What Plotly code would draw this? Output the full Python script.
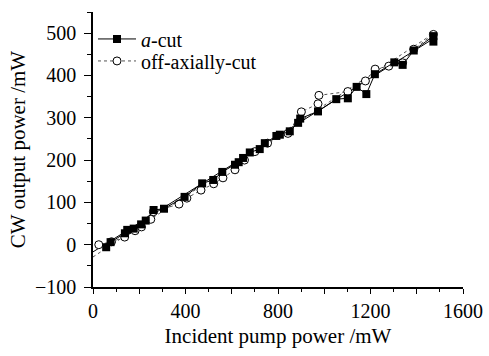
import plotly.graph_objects as go

# a-cut sample (filled squares)
a_cut_x = [57, 76, 138, 148, 176, 208, 228, 262, 307, 396, 472, 520, 559, 614, 630, 649, 678, 721, 743,
           793, 808, 851, 887, 896, 973, 1052, 1102, 1140, 1182, 1219, 1303, 1339, 1387, 1472, 1472]
a_cut_y = [-6, 6, 27, 35, 38, 48, 57, 82, 85, 113, 145, 153, 172, 189, 195, 205, 218, 226, 240,
           257, 260, 268, 288, 298, 315, 344, 346, 373, 356, 403, 431, 425, 459, 493, 480]

# off-axially-cut sample (open circles)
off_x = [25, 80, 137, 182, 210, 250, 261, 372, 406, 467, 522, 562, 614, 655, 700, 755, 843, 901,
         973, 977, 1102, 1178, 1220, 1279, 1339, 1387, 1472]
off_y = [0, 7, 18, 33, 42, 60, 78, 96, 110, 129, 144, 158, 177, 200, 220, 240, 263, 314,
         333, 353, 362, 387, 415, 422, 430, 462, 497]

# linear fit lines (end points)
fit_a_x = [0, 1475]
fit_a_y = [-17, 488]
fit_off_x = [0, 1475]
fit_off_y = [-29, 500]

x_ticks = [0, 200, 400, 600, 800, 1000, 1200, 1400, 1600]
x_ticktext = ["0", "", "400", "", "800", "", "1200", "", "1600"]
y_ticks = [-100, 0, 100, 200, 300, 400, 500]
y_ticktext = ["\u2212100", "0", "100", "200", "300", "400", "500"]

FONT = "Times New Roman, Liberation Serif, DejaVu Serif, serif"

fig = go.Figure()
fig.add_trace(go.Scatter(x=fit_off_x, y=fit_off_y, mode="lines",
                         line=dict(color="#555", width=1, dash="dot"), showlegend=False))
fig.add_trace(go.Scatter(x=fit_a_x, y=fit_a_y, mode="lines",
                         line=dict(color="black", width=1), showlegend=False))
fig.add_trace(go.Scatter(x=off_x, y=off_y, mode="lines+markers", name="off-axially-cut",
                         legend="legend2",
                         line=dict(color="#555", width=1, dash="dot"),
                         marker=dict(symbol="circle", size=8, color="white",
                                     line=dict(color="black", width=1))))
fig.add_trace(go.Scatter(x=a_cut_x, y=a_cut_y, mode="lines+markers", name="<i>a</i>-cut",
                         legend="legend",
                         line=dict(color="black", width=1),
                         marker=dict(symbol="square", size=8, color="black",
                                     line=dict(color="black", width=0))))

leg_common = dict(x=0.0, xanchor="left", yanchor="middle", bgcolor="rgba(0,0,0,0)",
                  font=dict(family=FONT, size=20), itemwidth=38)

fig.update_layout(
    width=489, height=356,
    margin=dict(l=93, r=26, t=12, b=69),
    paper_bgcolor="white", plot_bgcolor="white",
    font=dict(family=FONT, size=20, color="black"),
    showlegend=True,
    legend=dict(y=0.902, **leg_common),
    legend2=dict(y=0.822, **leg_common),
    xaxis=dict(range=[0, 1600], tickmode="array", tickvals=x_ticks, ticktext=x_ticktext,
               ticks="outside", ticklen=5, tickwidth=1, tickcolor="black",
               showline=True, linecolor="black", linewidth=1.5, showgrid=False, zeroline=False,
               ticklabelstandoff=0, automargin=False,
               minor=dict(tickmode="linear", tick0=0, dtick=100, ticks="outside", ticklen=3,
                          tickcolor="black"),
               title=dict(text="Incident pump power /mW", font=dict(family=FONT, size=21),
                          standoff=8),
               tickfont=dict(family=FONT, size=20)),
    yaxis=dict(range=[-100, 550], tickmode="array", tickvals=y_ticks, ticktext=y_ticktext,
               ticks="outside", ticklen=7, tickwidth=1, tickcolor="black",
               showline=True, linecolor="black", linewidth=1.5, showgrid=False, zeroline=False,
               ticklabelstandoff=4, automargin=False,
               minor=dict(tickmode="linear", tick0=0, dtick=50, ticks="outside", ticklen=4,
                          tickcolor="black"),
               title=dict(text="CW output power /mW", font=dict(family=FONT, size=21),
                          standoff=4),
               tickfont=dict(family=FONT, size=20)),
)

fig.write_html("out.html")
